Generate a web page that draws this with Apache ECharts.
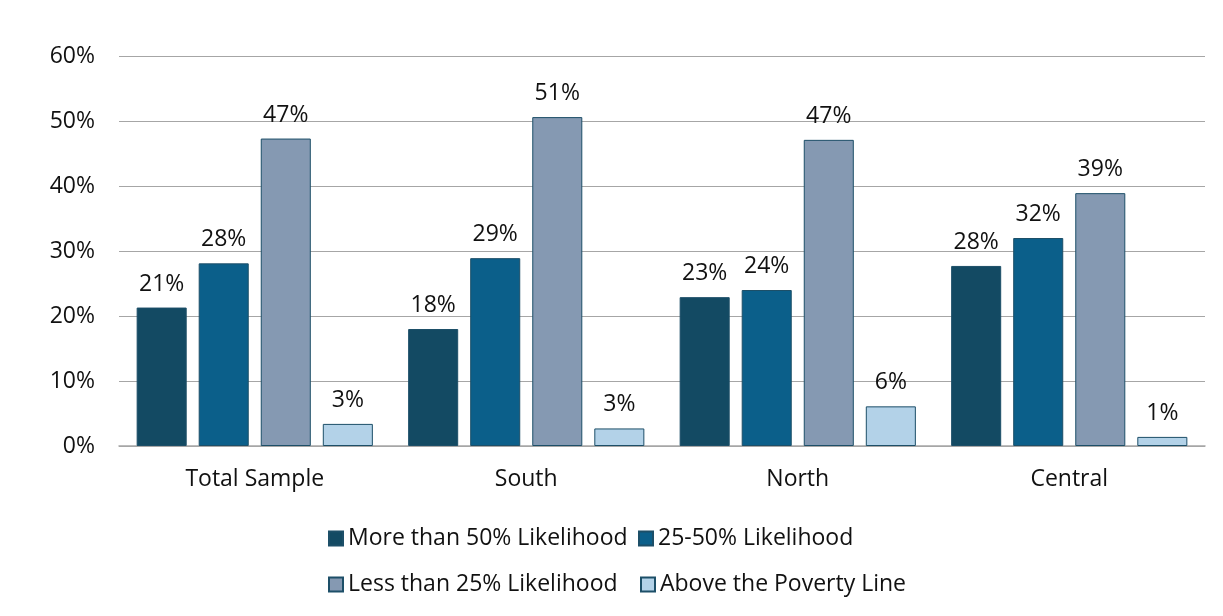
<!DOCTYPE html>
<html><head><meta charset="utf-8">
<script src="https://cdn.jsdelivr.net/npm/echarts@6/dist/echarts.min.js"></script>
<style>html,body{margin:0;padding:0;background:#fff}#c{width:1223px;height:616px}</style>
</head><body><div id="c"></div>
<script>
const categories = ['Total Sample', 'South', 'North', 'Central'];
const seriesNames = ['More than 50% Likelihood', '25-50% Likelihood', 'Less than 25% Likelihood', 'Above the Poverty Line'];
const moreThan50 = [21.3, 18.0, 22.9, 27.7];
const between25and50 = [28.1, 28.9, 24.0, 32.0];
const lessThan25 = [47.3, 50.6, 47.1, 38.9];
const abovePoverty = [3.4, 2.7, 6.1, 1.4];
const yTicks = [0, 10, 20, 30, 40, 50, 60];

const colors = ['#134a63', '#0b5f8a', '#8599b2', '#b3d2e8'];
const data = [moreThan50, between25and50, lessThan25, abovePoverty];
const font = '"Open Sans", sans-serif';
const fs = 23;
const legendPos = [[323, 522], [633, 522], [323, 568], [635, 568]];

const chart = echarts.init(document.getElementById('c'));
chart.setOption({
  animation: false,
  textStyle: { fontFamily: font },
  grid: { left: 119, right: 18, top: 56, bottom: 170, containLabel: false },
  legend: seriesNames.map((n, i) => ({
    data: [{ name: n, icon: 'rect' }], left: legendPos[i][0], top: legendPos[i][1],
    itemWidth: 14, itemHeight: 14, itemGap: 0,
    textStyle: { fontSize: fs, color: '#111', fontFamily: font, padding: [0, 0, 0, 0] }
  })),
  xAxis: {
    type: 'category', data: categories,
    axisLine: { lineStyle: { color: '#a6a6a6', width: 1.5 } },
    axisTick: { show: false },
    axisLabel: { fontSize: fs, color: '#111', margin: 22, fontFamily: font }
  },
  yAxis: {
    type: 'value', min: 0, max: 60, interval: 10,
    axisLine: { show: false }, axisTick: { show: false },
    splitLine: { lineStyle: { color: '#a6a6a6', width: 1.2 } },
    axisLabel: { fontSize: fs, color: '#111', margin: 24, fontFamily: font,
      formatter: v => yTicks.includes(v) ? v + '%' : '' }
  },
  series: data.map((d, i) => ({
    name: seriesNames[i], type: 'bar', data: d,
    barGap: '24%', barCategoryGap: '13%',
    itemStyle: { color: colors[i], borderColor: '#1d4f68', borderWidth: 1 },
    label: { show: true, position: 'top', distance: 12, fontSize: fs, color: '#111', fontFamily: font,
      formatter: p => Math.round(p.value) + '%' }
  }))
});
</script></body></html>
